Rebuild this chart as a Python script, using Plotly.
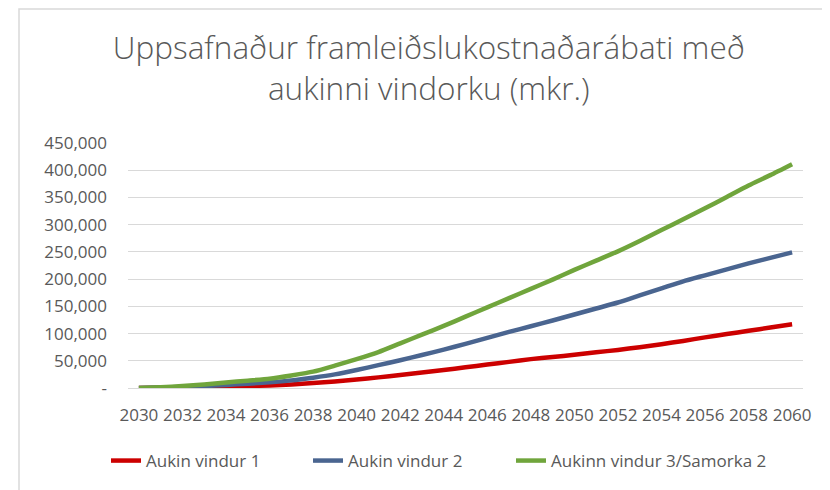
import plotly.graph_objects as go

# Ár og uppsafnaður ábati (mkr.), lesið af myndinni
years = list(range(2030, 2061))
vindur_1 = [0, 300, 800, 1500, 2500, 3500, 4800, 6500, 9000, 12000,
            15500, 19500, 24000, 28500, 33000, 38000, 43000, 48000, 53000, 57000,
            61000, 65500, 70000, 75000, 80500, 86500, 93000, 99000, 105000, 111000,
            117000]
vindur_2 = [0, 800, 2000, 3500, 5500, 8000, 10500, 14000, 19000, 25000,
            33000, 42000, 51000, 60500, 70500, 81000, 92000, 103000, 113500, 124000,
            135000, 146000, 157000, 170000, 183000, 196000, 207000, 218000, 229000, 239000,
            249000]
vindur_3 = [0, 1500, 3500, 6500, 10000, 13500, 17000, 23000, 30000, 41000,
            53000, 66000, 82000, 98000, 114000, 131000, 148000, 165000, 182000, 199000,
            217000, 234000, 251000, 270000, 290000, 310000, 330000, 351000, 372000, 391000,
            411000]

series_names = ["Aukin vindur 1", "Aukin vindur 2", "Aukinn vindur 3/Samorka 2"]
series_colors = ["#CC0000", "#4A6590", "#70A53C"]

x_ticks = list(range(2030, 2061, 2))
y_ticks = [0, 50000, 100000, 150000, 200000, 250000, 300000, 350000, 400000, 450000]
y_labels = ["-", "50,000", "100,000", "150,000", "200,000", "250,000",
            "300,000", "350,000", "400,000", "450,000"]

FONT = "Open Sans"
GREY = "#595959"

fig = go.Figure()
legend_ids = ["legend", "legend2", "legend3"]
for name, vals, col, lg in zip(series_names, [vindur_1, vindur_2, vindur_3], series_colors, legend_ids):
    fig.add_trace(go.Scatter(x=years, y=vals, mode="lines", name=name, legend=lg,
                             line=dict(color=col, width=4.5, shape="spline", smoothing=0.6)))

# eitt legend fyrir hverja röð, svo bilið verði eins og í Excel
legend_cfg = dict(orientation="h", xanchor="left", y=-0.298, yanchor="middle",
                  font=dict(family=FONT, size=17, color=GREY), bgcolor="rgba(0,0,0,0)")

# plot area: 675 x 245 px
fig.update_layout(
    width=830, height=490,
    margin=dict(l=120, r=35, t=135, b=110),
    paper_bgcolor="white", plot_bgcolor="white",
    font=dict(family=FONT, size=17, color=GREY),
    title=dict(text="Uppsafnaður framleiðslukostnaðarábati með<br>aukinni vindorku (mkr.)",
               x=0.507, xanchor="center", y=0.895, yanchor="top",
               font=dict(family=FONT, size=31.5, color=GREY, weight=300)),
    showlegend=True,
    legend=dict(x=-0.0326, **legend_cfg),
    legend2=dict(x=0.2667, **legend_cfg),
    legend3=dict(x=0.5674, **legend_cfg),
    shapes=[dict(type="rect", xref="paper", yref="paper",
                 x0=-109 / 675, x1=1.2, y0=-1.0, y1=1 + 134 / 245,
                 line=dict(color="#D9D9D9", width=1.5), fillcolor="rgba(0,0,0,0)", layer="below")],
)

fig.update_xaxes(range=[2029.5, 2060.5], tickvals=x_ticks, showgrid=False,
                 showline=False, zeroline=False, ticks="", ticklabelstandoff=15,
                 tickfont=dict(family=FONT, size=17, color=GREY))
fig.update_yaxes(range=[0, 450000], tickvals=y_ticks, ticktext=y_labels,
                 showgrid=True, gridcolor="#D9D9D9", gridwidth=1.2,
                 zeroline=True, zerolinecolor="#D9D9D9", zerolinewidth=1.2,
                 showline=False, ticks="", ticklabelstandoff=20,
                 tickfont=dict(family=FONT, size=17, color=GREY))

fig.write_html("out.html")
